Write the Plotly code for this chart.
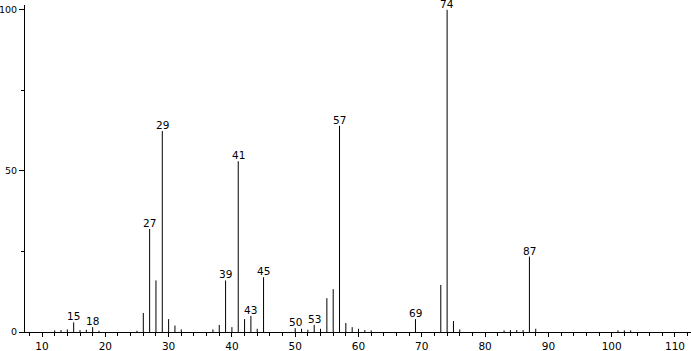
import plotly.graph_objects as go

mz = [12, 13, 14, 15, 16, 17, 18, 19, 25, 26, 27, 28, 29, 30, 31, 32, 37, 38, 39, 40, 41, 42, 43, 44, 45,
      50, 51, 52, 53, 54, 55, 56, 57, 58, 59, 60, 61, 62, 69, 73, 74, 75, 76, 83, 84, 85, 86, 87, 88, 101, 102, 103]
intensity = [0.5, 0.6, 0.8, 3.0, 0.6, 0.7, 1.5, 0.4, 0.4, 5.9, 32.0, 16.0, 62.4, 4.0, 2.0, 0.8, 0.8, 2.2, 16.0, 1.5,
             53.0, 4.0, 5.0, 1.0, 17.0, 1.2, 1.0, 0.7, 2.2, 1.0, 10.5, 13.3, 64.0, 2.8, 1.5, 1.0, 0.6, 0.5,
             4.0, 14.6, 100.0, 3.4, 0.8, 0.5, 0.6, 0.6, 0.6, 23.4, 1.0, 0.5, 0.5, 0.5]
labeled = [15, 18, 27, 29, 39, 41, 43, 45, 50, 53, 57, 69, 74, 87]
x_ticks = [10, 20, 30, 40, 50, 60, 70, 80, 90, 100, 110]
y_ticks = [0, 50, 100]

xs, ys = [], []
for m, h in zip(mz, intensity):
    xs += [m, m, None]
    ys += [0, h, None]

fig = go.Figure()
fig.add_trace(go.Scatter(x=xs, y=ys, mode="lines", line=dict(color="black", width=1),
                         hoverinfo="skip", showlegend=False, cliponaxis=False))

lookup = dict(zip(mz, intensity))
for m in labeled:
    fig.add_annotation(x=m, y=lookup[m], text=str(m), showarrow=False, yanchor="bottom",
                       yshift=-2, font=dict(family="DejaVu Sans", size=10.5, color="black"))

fig.update_layout(
    width=691, height=351, margin=dict(l=25, r=0, t=5, b=19, autoexpand=False),
    plot_bgcolor="white", paper_bgcolor="white",
    font=dict(family="DejaVu Sans", size=10.5, color="black"),
    xaxis=dict(range=[7.31, 112.53], tickvals=x_ticks, ticks="outside", ticklen=4, tickcolor="black",
               showline=True, linecolor="black", linewidth=1, showgrid=False, zeroline=False,
               automargin=False, ticklabelstandoff=0,
               minor=dict(dtick=2, tick0=0, ticks="outside", ticklen=3, tickcolor="black"),
               tickfont=dict(size=10.5)),
    yaxis=dict(range=[0, 101.5], tickvals=y_ticks, ticks="outside", ticklen=5, tickcolor="black",
               showline=True, linecolor="black", linewidth=1, showgrid=False, zeroline=False,
               automargin=False, ticklabelstandoff=0,
               minor=dict(tickvals=[25, 75], ticks="outside", ticklen=3, tickcolor="black"),
               tickfont=dict(size=9.5)),
)
fig.write_html("out.html")
